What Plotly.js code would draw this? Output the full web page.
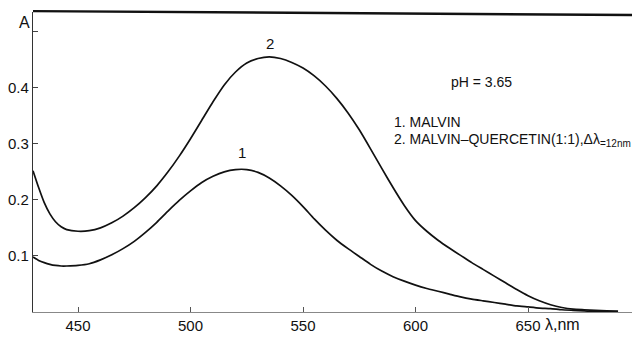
<!DOCTYPE html>
<html>
<head>
<meta charset="utf-8">
<script src="https://cdn.plot.ly/plotly-3.0.1.min.js"></script>
<style>
  html, body { margin: 0; padding: 0; background: #fff; }
  #chart { width: 632px; height: 337px; }
</style>
</head>
<body>
<div id="chart"></div>
<script>
// Absorption spectra, wavelength in nm
const wavelength = [430,432.5,435,437.5,440,442.5,445,450,455,460,465,470,475,480,485,490,495,500,505,510,515,520,525,530,535,540,545,550,555,560,565,570,575,580,585,590,595,600,605,610,615,620,625,630,635,640,645,650,655,660,665,670,675,680,685,690];

// 1. Malvin
const malvin = [0.098,0.092,0.088,0.085,0.083,0.082,0.082,0.083,0.086,0.093,0.102,0.113,0.126,0.142,0.160,0.180,0.199,0.216,0.231,0.242,0.250,0.254,0.254,0.249,0.239,0.225,0.208,0.188,0.166,0.146,0.128,0.113,0.099,0.085,0.073,0.063,0.055,0.048,0.042,0.037,0.032,0.027,0.023,0.020,0.017,0.014,0.011,0.009,0.007,0.006,0.004,0.003,0.002,0.001,0.001,0.001];

// 2. Malvin-quercetin (1:1)
const malvinQuercetin = [0.252,0.222,0.195,0.175,0.161,0.152,0.147,0.144,0.145,0.150,0.159,0.171,0.186,0.204,0.225,0.250,0.278,0.309,0.342,0.375,0.405,0.428,0.444,0.452,0.455,0.452,0.445,0.435,0.421,0.403,0.381,0.355,0.325,0.291,0.256,0.222,0.190,0.163,0.144,0.128,0.114,0.101,0.088,0.076,0.064,0.052,0.040,0.029,0.020,0.013,0.008,0.005,0.004,0.003,0.002,0.001];

const xTicks = [450, 500, 550, 600, 650];
const xTickText = ['450', '500', '550', '600', '650'];
const yTicks = [0.1, 0.2, 0.3, 0.4, 0.5];
const yTickText = ['0.1', '0.2', '0.3', '0.4', ' '];

const FONT = 'Liberation Sans, Arial, sans-serif';

const lineStyle = { color: '#111', width: 1.7, shape: 'spline', smoothing: 0.5 };

const traces = [
  { x: wavelength, y: malvin, mode: 'lines', line: lineStyle, hoverinfo: 'skip' },
  { x: wavelength, y: malvinQuercetin, mode: 'lines', line: lineStyle, hoverinfo: 'skip' }
];

const layout = {
  width: 632,
  height: 337,
  margin: { l: 33, r: 0, t: 12, b: 25 },
  paper_bgcolor: '#fff',
  plot_bgcolor: '#fff',
  showlegend: false,
  font: { family: FONT, size: 15, color: '#111' },
  xaxis: {
    range: [430, 696.2],
    tickvals: xTicks,
    ticktext: xTickText,
    ticks: 'inside',
    ticklen: 5,
    tickcolor: '#555',
    showgrid: false,
    zeroline: false,
    showline: true,
    linecolor: '#888',
    linewidth: 1.2,
    tickfont: { family: FONT, size: 15, color: '#111' }
  },
  yaxis: {
    range: [0, 0.535],
    tickvals: yTicks,
    ticktext: yTickText,
    ticks: 'inside',
    ticklen: 5,
    tickcolor: '#444',
    showgrid: false,
    zeroline: false,
    showline: true,
    linecolor: '#333',
    linewidth: 1.2,
    tickfont: { family: FONT, size: 15, color: '#111' }
  },
  shapes: [
    // heavy top frame line
    { type: 'line', xref: 'paper', yref: 'paper', x0: 0, x1: 1, y0: 1.003, y1: 0.99,
      line: { color: '#111', width: 2.4 } }
  ],
  annotations: [
    { text: 'A', xref: 'paper', yref: 'y', x: -0.002, y: 0.516, xanchor: 'right', showarrow: false,
      font: { family: FONT, size: 16, color: '#111' } },
    { text: 'λ,nm', xref: 'x', yref: 'paper', x: 665.5, y: -0.075, showarrow: false,
      font: { family: FONT, size: 16, color: '#111' } },
    { text: '2', xref: 'x', yref: 'y', x: 535.3, y: 0.479, showarrow: false,
      font: { family: FONT, size: 15, color: '#111' } },
    { text: '1', xref: 'x', yref: 'y', x: 523.1, y: 0.285, showarrow: false,
      font: { family: FONT, size: 15, color: '#111' } },
    { text: 'pH = 3.65', xref: 'x', yref: 'y', x: 629.1, y: 0.41, showarrow: false,
      font: { family: FONT, size: 14, color: '#111' } },
    { text: '1. MALVIN', xref: 'x', yref: 'y', x: 589.5, y: 0.339, xanchor: 'left', showarrow: false,
      font: { family: FONT, size: 14, color: '#111' } },
    { text: '2. MALVIN–QUERCETIN(1:1),Δλ<sub><span style="font-size:10px">=12nm</span></sub>',
      xref: 'x', yref: 'y', x: 589.5, y: 0.307,
      xanchor: 'left', showarrow: false,
      font: { family: FONT, size: 14, color: '#111' } }
  ]
};

Plotly.newPlot('chart', traces, layout, { staticPlot: true, displayModeBar: false });
</script>
</body>
</html>
